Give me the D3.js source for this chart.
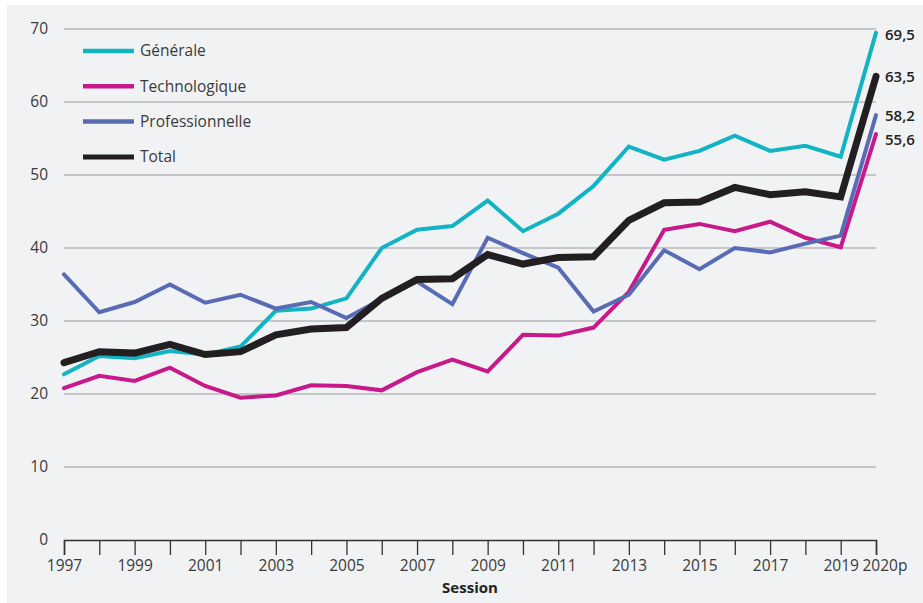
<!DOCTYPE html>
<html>
<head>
<meta charset="utf-8">
<script src="https://cdn.jsdelivr.net/npm/d3@7"></script>
<style>
  body { margin: 0; background: #fff; }
  svg { display: block; font-family: "Open Sans", Lato, sans-serif; }
</style>
</head>
<body>
<div id="chart"></div>
<script>
// Sessions
const years = ['1997','1998','1999','2000','2001','2002','2003','2004','2005','2006','2007','2008',
  '2009','2010','2011','2012','2013','2014','2015','2016','2017','2018','2019','2020p']
const tickYears = ['1997','1999','2001','2003','2005','2007','2009','2011','2013','2015','2017','2019','2020p']

// Series values (%)
const generale = [22.7,25.2,24.9,25.9,25.4,26.5,31.4,31.7,33.1,40.0,42.5,43.0,
  46.5,42.3,44.7,48.5,53.9,52.1,53.3,55.4,53.3,54.0,52.5,69.5]
const technologique = [20.8,22.5,21.8,23.6,21.1,19.5,19.8,21.2,21.1,20.5,23.0,24.7,
  23.1,28.1,28.0,29.1,34.0,42.5,43.3,42.3,43.6,41.4,40.1,55.6]
const professionnelle = [36.4,31.2,32.6,35.0,32.5,33.6,31.7,32.6,30.4,33.0,35.4,32.3,
  41.4,39.3,37.3,31.3,33.6,39.7,37.1,40.0,39.4,40.6,41.7,58.2]
const total = [24.3,25.8,25.6,26.8,25.4,25.8,28.1,28.9,29.1,33.1,35.7,35.8,
  39.1,37.8,38.7,38.8,43.8,46.2,46.3,48.3,47.3,47.7,47.0,63.5]
const yTicks = [0,10,20,30,40,50,60,70]

const series = [
  { name: 'Générale', values: generale, color: '#12b3c3', width: 4, label: '69,5' },
  { name: 'Technologique', values: technologique, color: '#c8198b', width: 4, label: '55,6' },
  { name: 'Professionnelle', values: professionnelle, color: '#5a6bb6', width: 4, label: '58,2' },
  { name: 'Total', values: total, color: '#231f20', width: 7, label: '63,5' }
]

const width = 923,
      height = 603,
      plotLeft = 64, plotRight = 876,
      plotTop = 29, plotBottom = 540

const svg = d3.select('#chart').append('svg')
  .attr('width', width)
  .attr('height', height)

// grey panel
svg.append('rect')
  .attr('x', 7).attr('y', 5)
  .attr('width', width - 7).attr('height', height - 5)
  .attr('fill', '#f1f2f4')

const x = d3.scalePoint().domain(years).range([plotLeft, plotRight])
const y = d3.scaleLinear().domain([0, 70]).range([plotBottom, plotTop])

// gridlines
svg.append('g')
  .selectAll('line')
  .data(yTicks.filter(d => d > 0))
  .enter().append('line')
  .attr('x1', plotLeft).attr('x2', plotRight)
  .attr('y1', d => y(d)).attr('y2', d => y(d))
  .attr('stroke', '#9a9a9a')
  .attr('stroke-width', 1.2)

// y labels
svg.append('g')
  .selectAll('text')
  .data(yTicks)
  .enter().append('text')
  .attr('x', 48)
  .attr('y', d => y(d))
  .attr('dy', '0.35em')
  .attr('text-anchor', 'end')
  .attr('font-size', 15.5)
  .attr('fill', '#3a3a3a')
  .text(d => d)

// x axis
const xAxis = svg.append('g')
  .attr('transform', `translate(0, ${plotBottom})`)
  .call(d3.axisBottom(x).tickSize(15).tickPadding(5)
    .tickFormat(d => tickYears.includes(d) ? d : ''))
xAxis.select('.domain').attr('stroke', '#333').attr('stroke-width', 1.5)
xAxis.selectAll('.tick line').attr('stroke', '#333').attr('stroke-width', 1.3)
xAxis.selectAll('.tick text')
  .attr('font-size', 15.5)
  .attr('font-family', '"Open Sans", Lato, sans-serif')
  .attr('fill', '#3a3a3a')
// last label sits to the right of its tick
xAxis.selectAll('.tick text')
  .filter(d => d === '2020p')
  .attr('text-anchor', 'start')
  .attr('x', -14)

svg.append('text')
  .attr('x', 470).attr('y', 593)
  .attr('text-anchor', 'middle')
  .attr('font-size', 15)
  .attr('font-weight', 'bold')
  .attr('fill', '#222')
  .text('Session')

// lines
const line = d3.line()
  .x((d, i) => x(years[i]))
  .y(d => y(d))

svg.append('g')
  .selectAll('path')
  .data(series)
  .enter().append('path')
  .attr('d', d => line(d.values))
  .attr('fill', 'none')
  .attr('stroke', d => d.color)
  .attr('stroke-width', d => d.width)
  .attr('stroke-linecap', 'round')

// end labels
const labelY = { 'Générale': 35, 'Total': 77, 'Professionnelle': 116, 'Technologique': 140 }
svg.append('g')
  .selectAll('text')
  .data(series)
  .enter().append('text')
  .attr('x', 885)
  .attr('y', d => labelY[d.name])
  .attr('dy', '0.35em')
  .attr('font-size', 15)
  .attr('font-weight', 600)
  .attr('fill', '#222')
  .text(d => d.label)

// legend
const legend = svg.append('g')
  .selectAll('g')
  .data(series)
  .enter().append('g')
  .attr('transform', (d, i) => `translate(83, ${51 + i * 35.3})`)
legend.append('line')
  .attr('x1', 0).attr('x2', 51)
  .attr('stroke', d => d.color)
  .attr('stroke-width', d => d.name === 'Total' ? 5 : 4.5)
legend.append('text')
  .attr('x', 57)
  .attr('dy', '0.35em')
  .attr('font-size', 15.5)
  .attr('fill', '#3a3a3a')
  .text(d => d.name)
</script>
</body>
</html>
